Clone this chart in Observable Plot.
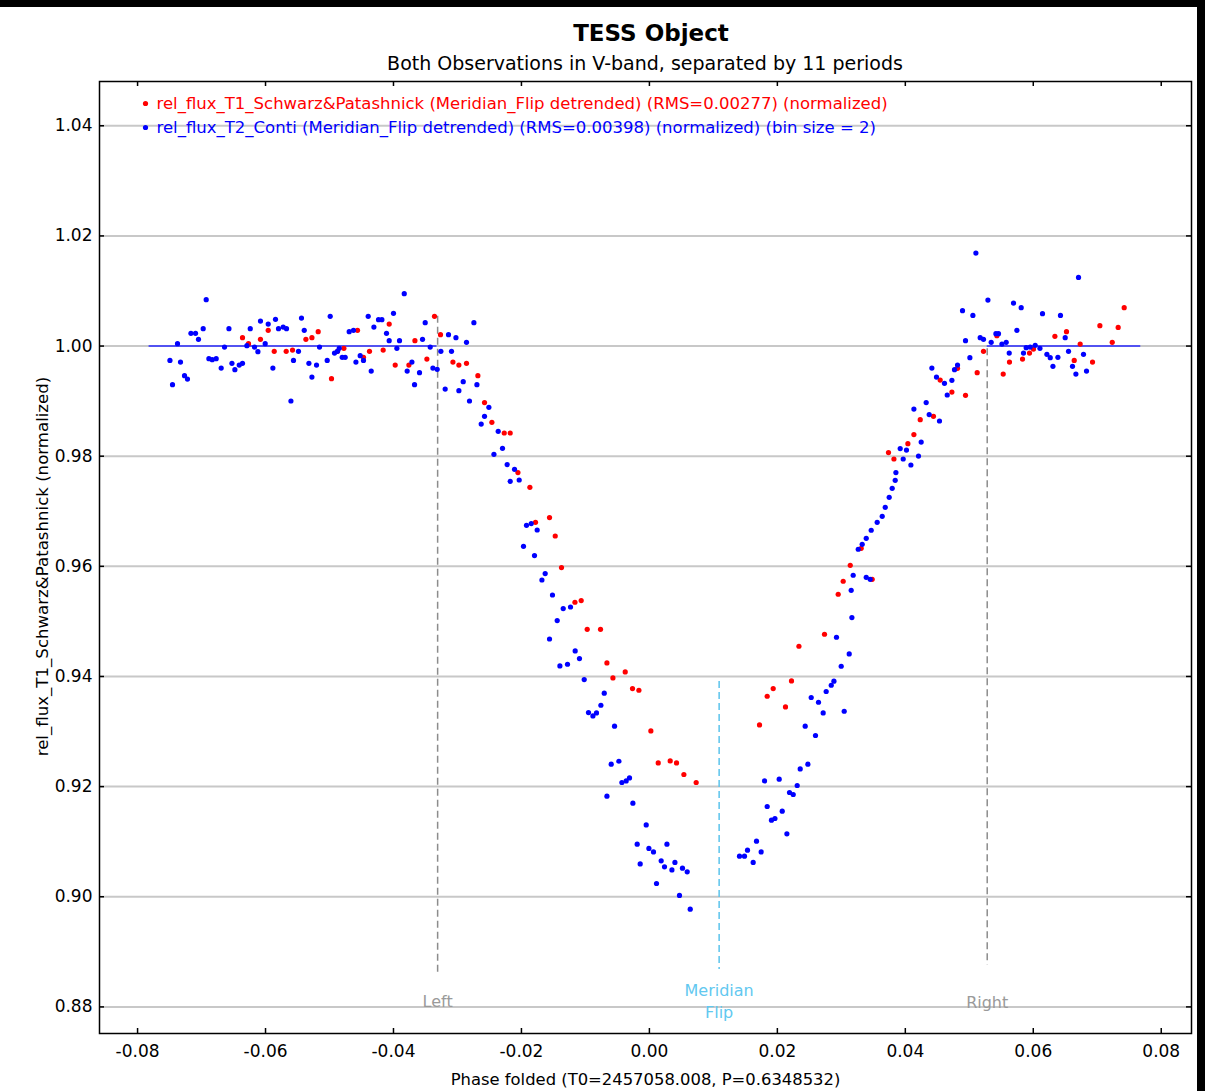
<!DOCTYPE html>
<html>
<head>
<meta charset="utf-8">
<script src="https://cdn.jsdelivr.net/npm/d3@7"></script>
<script src="https://cdn.jsdelivr.net/npm/@observablehq/plot@0.6"></script>
<style>
  html, body { margin: 0; padding: 0; background: #000; width: 1205px; height: 1091px; overflow: hidden; }
  #panel { position: absolute; left: 0; top: 7px; width: 1197px; height: 1084px; background: #fff; }
  .t { position: absolute; transform: translateX(-50%); white-space: nowrap; font-family: "DejaVu Sans", sans-serif; color: #000; }
  #title { left: 651px; top: 22px; font-size: 23px; line-height: 23px; font-weight: bold; }
  #subtitle { left: 645px; top: 54px; font-size: 19px; line-height: 19px; }
  #chart { position: absolute; left: 0; top: 72px; }
</style>
</head>
<body>
<div id="panel"></div>
<div class="t" id="title">TESS Object</div>
<div class="t" id="subtitle">Both Observations in V-band, separated by 11 periods</div>
<div id="chart"></div>
<script>
// ---- data ----
const titleText = "TESS Object";
const xLabel = "Phase folded (T0=2457058.008, P=0.6348532)";
const yLabel = "rel_flux_T1_Schwarz&Patashnick (normalized)";
const seriesNames = [
  "rel_flux_T1_Schwarz&Patashnick (Meridian_Flip detrended) (RMS=0.00277) (normalized)",
  "rel_flux_T2_Conti (Meridian_Flip detrended) (RMS=0.00398) (normalized) (bin size = 2)"
];
const xTicks = [-0.08, -0.06, -0.04, -0.02, 0.00, 0.02, 0.04, 0.06, 0.08];
const yTicks = [0.88, 0.90, 0.92, 0.94, 0.96, 0.98, 1.00, 1.02, 1.04];

// T1 (red)
const redX = [-0.06360,-0.06266,-0.06079,-0.05958,-0.05864,-0.05677,-0.05578,-0.05369,-0.05275,-0.05177,
  -0.04969,-0.04875,-0.04775,-0.04562,-0.04469,-0.04375,-0.04161,-0.04067,-0.03973,-0.03759,
  -0.03665,-0.03478,-0.03359,-0.03265,-0.03071,-0.02978,-0.02859,-0.02681,-0.02577,-0.02462,
  -0.02269,-0.02176,-0.02055,-0.01868,-0.01780,-0.01561,-0.01472,-0.01374,-0.01164,-0.01066,
  -0.00972,-0.00764,-0.00664,-0.00570,-0.00378,-0.00264,-0.00164,0.00023,0.00138,0.00325,
  0.00424,0.00539,0.00731,0.01721,0.01841,0.01935,0.02127,0.02221,0.02337,0.02737,
  0.02951,0.03029,0.03482,0.03139,0.03310,0.03737,0.03822,0.04040,0.04134,0.04233,
  0.04440,0.04545,0.04728,0.04816,0.04941,0.05123,0.05222,0.05431,0.05530,0.05628,
  0.05832,0.05941,0.06003,0.06338,0.06519,0.06640,0.06733,0.06926,0.07041,0.07234,
  0.07327,0.07421];
const redY = [1.00152,1.00044,1.00122,1.00285,0.99904,0.99904,0.99927,1.00122,1.00152,1.00261,
  0.99408,0.99904,0.99958,1.00285,0.99795,0.99904,0.99927,1.00399,0.99655,0.99655,
  1.00098,0.99764,1.00539,1.00207,0.99710,0.99655,0.99686,0.99463,0.98973,0.98615,
  0.98421,0.98421,0.97702,0.97435,0.96800,0.96885,0.96551,0.95977,0.95348,0.95378,
  0.94857,0.94857,0.94246,0.93973,0.94082,0.93781,0.93750,0.93011,0.92431,0.92467,
  0.92431,0.92220,0.92075,0.93120,0.93641,0.93781,0.93447,0.93919,0.94549,0.94767,
  0.95493,0.95729,0.95765,0.96019,0.96328,0.98065,0.97949,0.98228,0.98392,0.98664,
  0.98724,0.99383,0.99165,0.99595,0.99105,0.99517,0.99904,1.00189,0.99492,0.99710,
  0.99764,0.99873,0.99946,1.00176,1.00261,0.99740,1.00036,0.99710,1.00370,1.00067,
  1.00339,1.00697];

// T2 (blue)
const blueX = [-0.07494,-0.07454,-0.07376,-0.07329,-0.07266,-0.07220,-0.07166,-0.07094,-0.07048,-0.06974,
  -0.06927,-0.06885,-0.06833,-0.06771,-0.06693,-0.06641,-0.06572,-0.06525,-0.06479,-0.06411,
  -0.06360,-0.06291,-0.06239,-0.06172,-0.06119,-0.06079,-0.06005,-0.05958,-0.05885,-0.05844,
  -0.05797,-0.05724,-0.05672,-0.05603,-0.05563,-0.05485,-0.05438,-0.05395,-0.05322,-0.05275,
  -0.05203,-0.05156,-0.05036,-0.04989,-0.04922,-0.04875,-0.04848,-0.04802,-0.04755,-0.04692,
  -0.04625,-0.04587,-0.04520,-0.04469,-0.04395,-0.04348,-0.04306,-0.04234,-0.04181,-0.04109,
  -0.04067,-0.04000,-0.03947,-0.03906,-0.03832,-0.03786,-0.03712,-0.03671,-0.03593,-0.03546,
  -0.03504,-0.03426,-0.03384,-0.03317,-0.03259,-0.03192,-0.03140,-0.03093,-0.03024,-0.02978,
  -0.02910,-0.02859,-0.02812,-0.02743,-0.02696,-0.02509,-0.02577,-0.02629,-0.02363,-0.02296,
  -0.02430,-0.02223,-0.02108,-0.02176,-0.02035,-0.01921,-0.01847,-0.01754,-0.01968,-0.01796,
  -0.01629,-0.01680,-0.01515,-0.01347,-0.01233,-0.01441,-0.01561,-0.01160,-0.01093,-0.01399,
  -0.01280,-0.01019,-0.00706,-0.00758,-0.00952,-0.00883,-0.00827,-0.00545,-0.00597,-0.00477,
  -0.00430,-0.00363,-0.00311,-0.00664,-0.00258,-0.00050,-0.00191,-0.00008,0.00064,0.00274,
  -0.00144,0.00184,0.00236,0.00399,0.00352,0.00517,0.00591,0.00111,0.00470,0.00638,
  0.01408,0.01486,0.01533,0.01622,0.01674,0.01747,0.01799,0.02029,0.01841,0.02076,
  0.01908,0.01962,0.02149,0.02190,0.02248,0.02310,0.02357,0.02477,0.02435,0.02596,
  0.02529,0.02643,0.02716,0.02763,0.02842,0.02884,0.03045,0.02924,0.02998,0.03123,
  0.03165,0.03154,0.03185,0.03389,0.03451,0.03264,0.03326,0.03389,0.03467,0.03560,
  0.03639,0.03686,0.03748,0.03795,0.03842,0.03853,0.04087,0.03967,0.04206,0.03920,
  0.04018,0.04248,0.04534,0.04373,0.04134,0.04326,0.04655,0.04612,0.04728,0.04487,
  0.04415,0.04769,0.04816,0.05009,0.04941,0.04894,0.05056,0.05103,0.05170,0.05222,
  0.05291,0.05342,0.05416,0.05456,0.05510,0.05577,0.05624,0.05691,0.05744,0.05811,
  0.05847,0.05889,0.05952,0.06030,0.06104,0.06144,0.06213,0.06265,0.06307,0.06385,
  0.06425,0.06499,0.06551,0.06613,0.06666,0.06707,0.06785,0.06832];
const blueY = [0.99740,0.99299,1.00044,0.99710,0.99463,0.99401,1.00231,1.00231,1.00122,1.00316,
  1.00842,0.99771,0.99753,0.99771,0.99601,0.99982,1.00316,0.99686,0.99572,0.99655,
  0.99686,1.00007,1.00316,0.99982,0.99898,1.00454,1.00044,1.00399,0.99601,1.00485,
  1.00316,1.00345,1.00316,0.99002,0.99740,0.99904,1.00508,1.00285,0.99686,0.99437,
  0.99655,0.99982,0.99740,1.00539,0.99873,0.99904,0.99958,0.99795,0.99795,1.00261,
  1.00285,0.99710,0.99826,0.99740,1.00539,0.99546,1.00345,1.00479,1.00479,1.00231,
  1.00098,1.00594,0.99958,1.00098,1.00951,0.99546,0.99710,0.99299,0.99517,1.00122,
  1.00425,0.99982,0.99601,0.99577,0.99904,0.99219,1.00207,0.99904,1.00152,0.99190,
  0.99354,1.00067,0.99002,1.00425,0.99299,0.98887,0.98724,0.98584,0.98452,0.98143,
  0.98034,0.97847,0.97762,0.97544,0.97568,0.96745,0.96776,0.96660,0.96364,0.96195,
  0.95869,0.95752,0.95480,0.95233,0.95262,0.95015,0.94681,0.94464,0.94326,0.94191,
  0.94222,0.93944,0.93696,0.93478,0.93345,0.93284,0.93338,0.93097,0.92407,0.92461,
  0.92075,0.92104,0.92158,0.91826,0.91699,0.91305,0.90955,0.90877,0.90815,0.90955,
  0.90597,0.90652,0.90543,0.90623,0.90488,0.90519,0.90452,0.90241,0.90024,0.89775,
  0.90737,0.90737,0.90846,0.90623,0.91009,0.90815,0.92104,0.92135,0.91639,0.91554,
  0.91390,0.91421,0.91142,0.91893,0.91857,0.92020,0.92322,0.92407,0.93097,0.92928,
  0.93618,0.93532,0.93338,0.93727,0.93841,0.93914,0.93369,0.94712,0.94186,0.94409,
  0.95070,0.95565,0.95838,0.95801,0.95765,0.96310,0.96400,0.96509,0.96655,0.96800,
  0.96909,0.97072,0.97254,0.97417,0.97562,0.97702,0.97840,0.97949,0.98003,0.98138,
  0.98112,0.98257,0.98639,0.98755,0.98856,0.98973,0.99111,0.99323,0.99377,0.99437,
  0.99601,0.99572,0.99655,0.99789,1.00098,1.00643,1.00557,1.01688,1.00152,1.00122,
  1.00835,1.00067,1.00225,1.00225,1.00036,1.00067,0.99873,1.00781,1.00285,1.00697,
  0.99873,0.99971,0.99982,1.00013,0.99958,1.00588,0.99849,0.99789,0.99632,0.99795,
  1.00557,1.00152,0.99904,0.99632,0.99492,1.01247,0.99849,0.99546];

// baseline (out-of-transit) fit level and extents
const fitLevel = 1.0;
const fitLeft = [-0.0782, -0.0332];
const fitRight = [0.0528, 0.0768];

// vertical markers
const markerLabels = ["Left", "Meridian\nFlip", "Right"];
const markerX = [-0.0331, 0.0109, 0.0528];
const markerTop = [1.0054, 0.9391, 0.9995];
const markerBottom = [0.8863, 0.8868, 0.8876];
const markerLabelY = [0.8812, 0.8812, 0.8810];
const markerColors = ["#8c8c8c", "#5cc4ec", "#8c8c8c"];
const markerTextColors = ["#9a9a9a", "#62c8f0", "#9a9a9a"];

const xDomain = [-0.08595, 0.08473];
const yDomain = [0.87517, 1.04804];

// ---- build tables ----
const red = redX.map((x, i) => ({x, y: redY[i]}));
const blue = blueX.map((x, i) => ({x, y: blueY[i]}));
const markers = markerX.map((x, i) => ({x, top: markerTop[i], bottom: markerBottom[i], label: markerLabels[i], ly: markerLabelY[i], c: markerColors[i], tc: markerTextColors[i]}));
const fits = [fitLeft, fitRight].map(([a, b]) => ({x1: a, x2: b, y: fitLevel}));

const W = 1205, H = 1019;
const mL = 99, mR = 14, mT = 9, mB = 58;
const innerW = W - mL - mR, innerH = H - mT - mB;
const fmt = d => d.toFixed(2);

const chart = Plot.plot({
  width: W,
  height: H,
  marginLeft: mL, marginRight: mR, marginTop: mT, marginBottom: mB,
  style: {fontFamily: "DejaVu Sans, sans-serif", fontSize: "16px", background: "transparent", overflow: "visible"},
  x: {domain: xDomain},
  y: {domain: yDomain},
  marks: [
    Plot.ruleY(yTicks, {stroke: "#c8c8c8", strokeWidth: 2}),
    // inward ticks on all four sides
    Plot.tickY(yTicks, {insetRight: innerW - 5, stroke: "#000", strokeWidth: 1.5}),
    Plot.tickY(yTicks, {insetLeft: innerW - 5, stroke: "#000", strokeWidth: 1.5}),
    Plot.tickX(xTicks, {insetTop: innerH - 5, stroke: "#000", strokeWidth: 1.5}),
    Plot.tickX(xTicks, {insetBottom: innerH - 5, stroke: "#000", strokeWidth: 1.5}),
    Plot.axisX({ticks: xTicks, tickSize: 0, tickPadding: 11, tickFormat: fmt, fontSize: 17, label: null}),
    Plot.axisY({ticks: yTicks, tickSize: 0, tickPadding: 7, tickFormat: fmt, fontSize: 17, label: null}),
    // markers
    Plot.ruleX(markers, {x: "x", y1: "top", y2: "bottom", stroke: "c", strokeWidth: 1.5, strokeDasharray: "7,4"}),
    Plot.text(markers, {x: "x", y: "ly", text: "label", fill: "tc", fontSize: 16, lineHeight: 1.35, lineAnchor: "middle"}),
    // baseline fit
    Plot.ruleY(fits, {x1: "x1", x2: "x2", y: "y", stroke: "#2b2bff", strokeWidth: 1.5}),
    // data
    Plot.dot(red, {x: "x", y: "y", r: 2.6, fill: "#ff0000", stroke: "none"}),
    Plot.dot(blue, {x: "x", y: "y", r: 2.6, fill: "#0000ff", stroke: "none"}),
    // legend
    Plot.dot([seriesNames[0]], {frameAnchor: "top-left", dx: 46, dy: 22, r: 2.6, fill: "#ff0000"}),
    Plot.dot([seriesNames[1]], {frameAnchor: "top-left", dx: 46, dy: 46, r: 2.6, fill: "#0000ff"}),
    Plot.text([seriesNames[0]], {frameAnchor: "top-left", dx: 57, dy: 22, text: d => d, fill: "#ff0000", textAnchor: "start", lineAnchor: "middle", fontSize: 16.5}),
    Plot.text([seriesNames[1]], {frameAnchor: "top-left", dx: 57, dy: 46, text: d => d, fill: "#0000ff", textAnchor: "start", lineAnchor: "middle", fontSize: 16.5}),
    // axis titles
    Plot.text([xLabel], {frameAnchor: "bottom", textAnchor: "middle", dx: 0, dy: 46, text: d => d, fontSize: 16.4, lineAnchor: "middle"}),
    Plot.text([yLabel], {frameAnchor: "left", textAnchor: "middle", dx: -57, dy: 9, rotate: -90, text: d => d, fontSize: 16.6, lineAnchor: "middle"}),
    Plot.frame({stroke: "#000", strokeWidth: 1.5})
  ]
});
document.getElementById("chart").appendChild(chart);
</script>
</body>
</html>
